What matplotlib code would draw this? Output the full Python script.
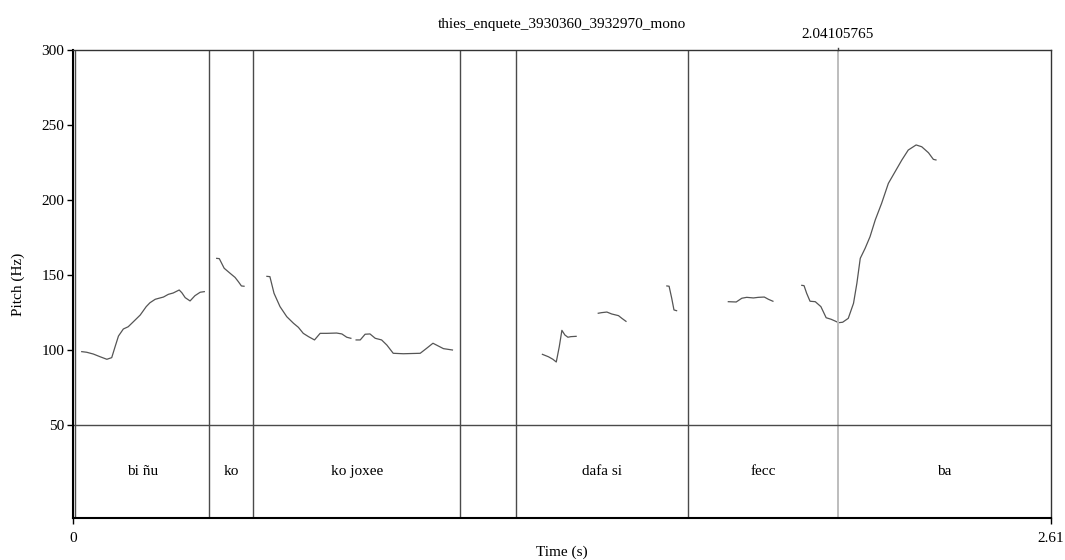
import numpy as np
import matplotlib
matplotlib.use("Agg")
import matplotlib.pyplot as plt

plt.rcParams['font.family'] = ['Liberation Serif', 'DejaVu Serif']

title = "thies_enquete_3930360_3932970_mono"
t_max = 2.61
cursor_t = 2.04105765

# pitch contour segments (time s, pitch Hz)
seg1_t = [0.024, 0.037, 0.055, 0.073, 0.091, 0.104, 0.113, 0.122, 0.135, 0.148, 0.162, 0.180, 0.196,
          0.206, 0.220, 0.233, 0.242, 0.255, 0.268, 0.284, 0.291, 0.300, 0.313, 0.326, 0.340, 0.351]
seg1_f = [98.9, 98.5, 97.3, 95.5, 93.8, 94.9, 102.2, 109.3, 114.0, 115.5, 118.9, 123.3, 128.9,
          131.5, 133.8, 134.7, 135.3, 137.1, 138.0, 140.0, 138.2, 134.9, 132.7, 136.2, 138.5, 138.9]
seg2_t = [0.384, 0.391, 0.404, 0.420, 0.433, 0.442, 0.450, 0.457]
seg2_f = [161.1, 160.9, 154.5, 151.1, 148.4, 145.5, 142.7, 142.5]
seg3_t = [0.518, 0.526, 0.537, 0.553, 0.571, 0.589, 0.602, 0.615, 0.629, 0.645, 0.660, 0.678, 0.704,
          0.718, 0.731, 0.742]
seg3_f = [149.1, 148.9, 137.8, 128.9, 122.2, 117.8, 115.1, 111.1, 108.9, 106.7, 111.1, 111.1, 111.3,
          110.7, 108.5, 107.8]
seg4_t = [0.756, 0.767, 0.780, 0.793, 0.807, 0.824, 0.838, 0.855, 0.882, 0.927, 0.944, 0.961, 0.975,
          0.989, 1.013]
seg4_f = [106.7, 106.7, 110.5, 110.7, 107.8, 106.7, 103.3, 97.8, 97.5, 97.8, 101.1, 104.5, 102.7,
          100.9, 100.0]
seg5_t = [1.253, 1.269, 1.281, 1.290, 1.298, 1.305, 1.313, 1.321, 1.329, 1.343]
seg5_f = [97.1, 95.5, 93.8, 92.0, 102.2, 113.1, 110.0, 108.5, 108.9, 109.1]
seg6_t = [1.402, 1.411, 1.425, 1.438, 1.456, 1.465, 1.476]
seg6_f = [124.5, 124.9, 125.3, 124.0, 122.9, 121.1, 119.1]
seg7_t = [1.585, 1.591, 1.598, 1.604, 1.611]
seg7_f = [142.7, 142.5, 134.5, 126.7, 126.2]
seg8_t = [1.749, 1.770, 1.785, 1.798, 1.816, 1.829, 1.845, 1.856, 1.868]
seg8_f = [132.2, 132.0, 134.5, 135.1, 134.7, 135.1, 135.3, 133.8, 132.5]
seg9_t = [1.945, 1.951, 1.958, 1.967, 1.981, 1.996, 2.010, 2.023, 2.034, 2.043, 2.054, 2.069, 2.083,
          2.092, 2.101, 2.114, 2.127, 2.141, 2.158, 2.176, 2.194, 2.212, 2.229, 2.250, 2.265, 2.283,
          2.296, 2.303]
seg9_f = [143.1, 142.9, 137.8, 132.5, 132.2, 128.9, 121.5, 120.5, 119.3, 118.2, 118.5, 121.1, 131.1,
          144.5, 161.1, 167.8, 175.5, 186.7, 197.8, 211.1, 218.9, 226.7, 233.3, 236.7, 235.5, 231.5,
          227.1, 226.7]

segments = [(seg1_t, seg1_f), (seg2_t, seg2_f), (seg3_t, seg3_f), (seg4_t, seg4_f),
            (seg5_t, seg5_f), (seg6_t, seg6_f), (seg7_t, seg7_f), (seg8_t, seg8_f),
            (seg9_t, seg9_f)]

# interval tier
boundaries = [0.007, 0.3645, 0.482, 1.033, 1.183, 1.642, cursor_t]
interval_edges = [0.007, 0.3645, 0.482, 1.033, 1.183, 1.642, cursor_t, t_max]
interval_labels = ["bi ñu", "ko", "ko joxee", "", "dafa si", "fecc", "ba"]

y_ticks = [50, 100, 150, 200, 250, 300]
y_min, y_max = -12.2, 300
tier_top = 50

fig = plt.figure(figsize=(10.65, 5.6), dpi=100)
ax = fig.add_axes([0.0683, 0.0745, 0.9186, 0.8362])
ax.set_xlim(0, t_max)
ax.set_ylim(y_min, y_max)

for t, f in segments:
    ax.plot(t, f, color='#555555', lw=0.9, solid_joinstyle='round')

for b in boundaries[:-1]:
    ax.axvline(b, color='#4a4a4a', lw=1.0)
ax.axvline(cursor_t, ymin=0, ymax=1.0, color='#bdbdbd', lw=1.4)
ax.plot([cursor_t, cursor_t], [y_max, y_max + 1.5], color='#444444', lw=1.0, clip_on=False)

ax.axhline(tier_top, color='#4a4a4a', lw=1.0)

tier_mid = (tier_top + y_min) / 2
for i, lab in enumerate(interval_labels):
    if lab:
        ax.text((interval_edges[i] + interval_edges[i + 1]) / 2, tier_mid, lab,
                ha='center', va='center', fontsize=11)

ax.set_yticks(y_ticks)
ax.set_xticks([0, t_max])
ax.set_xticklabels(["0", "2.61"])
ax.tick_params(axis='both', labelsize=11, length=4, width=1.0, colors='black', pad=2)
ax.tick_params(axis='x', pad=6)
for s in ['left', 'bottom']:
    ax.spines[s].set_linewidth(1.5)
for s in ['top', 'right']:
    ax.spines[s].set_linewidth(1.0)
    ax.spines[s].set_color('#333333')

ax.set_ylabel("Pitch (Hz)", fontsize=11, labelpad=12)
ax.set_xlabel("Time (s)", fontsize=11, labelpad=0)
ax.text(0.5, 1.04, title, transform=ax.transAxes, ha='center', va='bottom', fontsize=11)
ax.text(cursor_t, y_max + 6, "2.04105765", ha='center', va='bottom', fontsize=11)

fig.savefig("out.png", dpi=100)
